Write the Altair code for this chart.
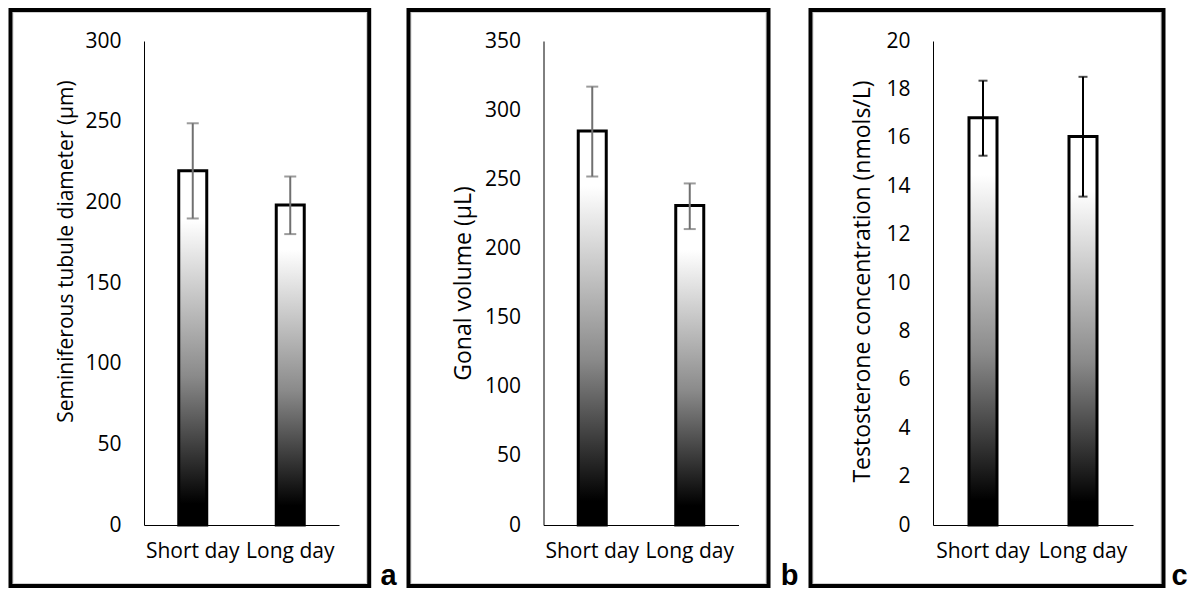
import altair as alt
import pandas as pd

groups = ["Short day", "Long day"]

diam_mean = [219.5, 198.3]
diam_upper = [249.0, 216.0]
diam_lower = [190.0, 180.3]

vol_mean = [285.0, 231.0]
vol_upper = [317.0, 247.0]
vol_lower = [252.0, 214.0]

test_mean = [16.83, 16.05]
test_upper = [18.36, 18.52]
test_lower = [15.26, 13.57]

FONT = "Open Sans"
FS = 21

grad = alt.LinearGradient(
    gradient="linear", x1=0, x2=0, y1=0, y2=1,
    stops=[
        alt.GradientStop(color="#ffffff", offset=0),
        alt.GradientStop(color="#ffffff", offset=0.14),
        alt.GradientStop(color="#8a8a8a", offset=0.58),
        alt.GradientStop(color="#000000", offset=0.94),
        alt.GradientStop(color="#000000", offset=1),
    ],
)


def panel(mean, upper, lower, title, ymax, ystep, width, band_range,
          err_color, cap, box, letter_x, letter, title_x, title_y, tfs):
    df = pd.DataFrame({"group": groups, "mean": mean,
                       "upper": upper, "lower": lower})
    one = pd.DataFrame({"k": [0]})
    xenc = alt.X(
        "group:N", sort=groups,
        scale=alt.Scale(paddingInner=0, paddingOuter=0, range=[0, band_range]),
        axis=alt.Axis(title=None, labelAngle=0, ticks=False, tickSize=0,
                      labelPadding=15, labelFontSize=FS, labelFont=FONT,
                      labelColor="#000000", domainColor="#000000",
                      domainWidth=1, grid=False),
    )
    ticks = list(range(0, ymax + 1, ystep))
    yscale = alt.Scale(domain=[0, ymax], nice=False, zero=True)
    yaxis = alt.Axis(title=title, values=ticks, grid=False, ticks=False,
                     tickSize=0, labelPadding=23, labelFontSize=FS,
                     labelFont=FONT, labelColor="#000000",
                     domainColor="#000000", domainWidth=1,
                     titleFont=FONT, titleFontSize=tfs,
                     titleFontWeight="normal", titleColor="#000000",
                     titleX=title_x, titleY=title_y, titleAlign="center",
                     titleBaseline="alphabetic")
    base = alt.Chart(df)
    frame = alt.Chart(one).mark_rect(
        filled=False, stroke="#000000", strokeWidth=4, clip=False
    ).encode(x=alt.value(box[0]), x2=alt.value(box[1]),
             y=alt.value(-31), y2=alt.value(545))
    inner = alt.Chart(one).mark_rect(
        filled=False, stroke="#cfcfcf", strokeWidth=1, clip=False
    ).encode(x=alt.value(box[0] + 2.5), x2=alt.value(box[1] - 2.5),
             y=alt.value(-28.5), y2=alt.value(542.5))
    bars = base.mark_bar(size=28, color=grad, stroke="#000000",
                         strokeWidth=3).encode(
        x=xenc, y=alt.Y("mean:Q", scale=yscale, axis=yaxis))
    rule = base.mark_rule(color=err_color, strokeWidth=2).encode(
        x=xenc, y=alt.Y("lower:Q", scale=yscale, axis=yaxis), y2="upper:Q")
    cap_top = base.mark_tick(color=err_color, thickness=2, size=cap).encode(
        x=xenc, y=alt.Y("upper:Q", scale=yscale, axis=yaxis))
    cap_bot = base.mark_tick(color=err_color, thickness=2, size=cap).encode(
        x=xenc, y=alt.Y("lower:Q", scale=yscale, axis=yaxis))
    lab = alt.Chart(one).mark_text(
        text=letter, font="Liberation Sans", fontWeight="bold", fontSize=29,
        align="center", baseline="alphabetic", color="#000000"
    ).encode(x=alt.value(letter_x), y=alt.value(544))
    return alt.layer(inner, frame, bars, rule, cap_top, cap_bot, lab).properties(
        width=width, height=484)


pa = panel(diam_mean, diam_upper, diam_lower,
           "Seminiferous tubule diameter (\u00b5m)", 300, 50, 200, 195,
           "#707070", 12, (-133.5, 225.2), 244.5, "a", -72, 210, 21)
pb = panel(vol_mean, vol_upper, vol_lower,
           "Gonal volume (\u00b5L)", 350, 50, 190, 195,
           "#707070", 12, (-135, 225), 246, "b", -73, 242, 23)
pc = panel(test_mean, test_upper, test_lower,
           "Testosterone concentration (nmols/L)", 20, 2, 200, 200,
           "#000000", 9, (-122.5, 230.5), 246.5, "c", -64, 240, 23)

chart = alt.hconcat(pa, pb, pc, spacing=199.5, bounds="flush").configure_view(
    strokeWidth=0).properties(padding=0, background="#ffffff")

chart.save("out.html", embed_options={"renderer": "svg", "actions": False})
